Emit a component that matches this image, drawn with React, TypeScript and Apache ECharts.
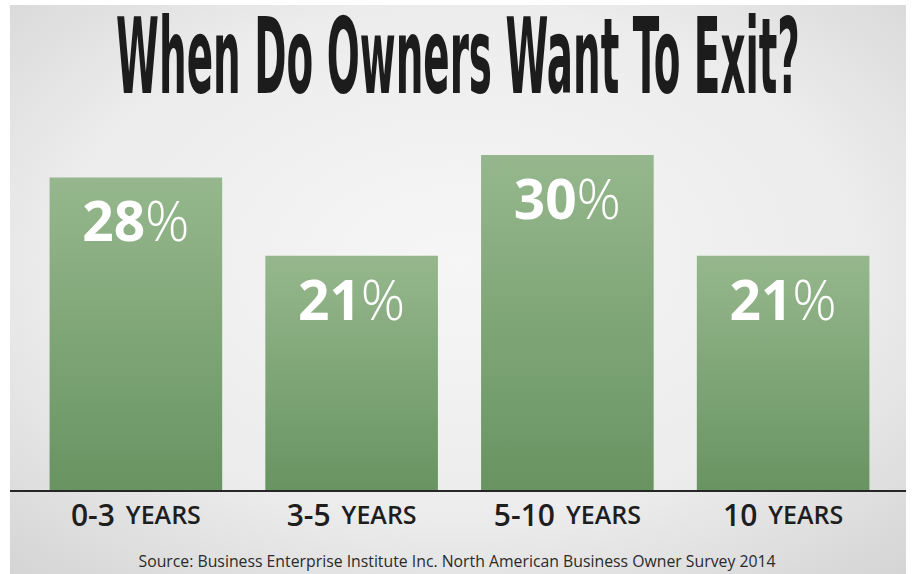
import React, { useEffect, useRef } from "react";
import * as echarts from "echarts";

const categories: string[] = ["0-3", "3-5", "5-10", "10"];
const values: number[] = [28, 21, 30, 21];
const unitWord = "YEARS";
const titleText = "When Do Owners Want To Exit?";
const sourceText = "Source: Business Enterprise Institute Inc. North American Business Owner Survey 2014";

export default function App() {
  const ref = useRef<HTMLDivElement>(null);
  useEffect(() => {
    if (!ref.current) return;
    const chart = echarts.init(ref.current, null, { renderer: "svg" });
    chart.setOption({
      animation: false,
      graphic: [
        {
          type: "rect",
          z: -10,
          silent: true,
          shape: { x: 10, y: 5, width: 896, height: 569 },
          style: {
            fill: new echarts.graphic.RadialGradient(0.5, 0.45, 0.75, [
              { offset: 0, color: "#f6f6f6" },
              { offset: 0.6, color: "#ececec" },
              { offset: 1, color: "#d4d4d4" },
            ]),
          },
        },
        {
          type: "line",
          z: 10,
          shape: { x1: 10, y1: 491, x2: 906, y2: 491 },
          style: { stroke: "#262626", lineWidth: 2 },
        },
        {
          type: "text",
          x: 458,
          y: 56,
          scaleX: 1,
          scaleY: 2.446,
          style: {
            text: titleText,
            font: "bold 43.2px 'DejaVu Sans Condensed'",
            fill: "#1c1c1c",
            align: "center",
            verticalAlign: "middle",
          },
        },
        {
          type: "text",
          x: 457,
          y: 561,
          style: {
            text: sourceText,
            font: "15.8px 'Open Sans'",
            fill: "#2a2a2a",
            align: "center",
            verticalAlign: "middle",
          },
        },
      ],
      grid: { left: 28, right: 24, top: 43, bottom: 83, containLabel: false },
      xAxis: {
        type: "category",
        data: categories,
        axisLine: { show: false },
        axisTick: { show: false },
        axisLabel: {
          margin: 8,
          formatter: (v: string) => `{n|${v}}{y|${unitWord}}`,
          rich: {
            n: { fontFamily: "Open Sans", fontWeight: 600, fontSize: 30, color: "#1e1e1e" },
            y: { fontFamily: "Open Sans", fontWeight: 600, fontSize: 25, color: "#1e1e1e", padding: [0, 0, 0, 11] },
          },
        },
      },
      yAxis: {
        type: "value",
        min: 0,
        max: 40,
        show: false,
        splitLine: { show: false },
      },
      series: [
        {
          type: "bar",
          data: values,
          barCategoryGap: "20%",
          itemStyle: {
            color: new echarts.graphic.LinearGradient(0, 0, 0, 1, [
              { offset: 0, color: "#96b78d" },
              { offset: 1, color: "#689461" },
            ]),
          },
          label: {
            show: true,
            position: "insideTop",
            distance: 15,
            formatter: (p: any) => `{b|${p.value}}{p|%}`,
            rich: {
              b: { fontFamily: "Open Sans", fontWeight: "bold", fontSize: 55, color: "#ffffff" },
              p: { fontFamily: "Open Sans", fontWeight: 300, fontSize: 55, color: "#ffffff" },
            },
          },
        },
      ],
    });
    return () => chart.dispose();
  }, []);
  return (
    <div
      ref={ref}
      style={{ position: "absolute", left: 0, top: 0, width: 915, height: 574, background: "#ffffff" }}
    />
  );
}
